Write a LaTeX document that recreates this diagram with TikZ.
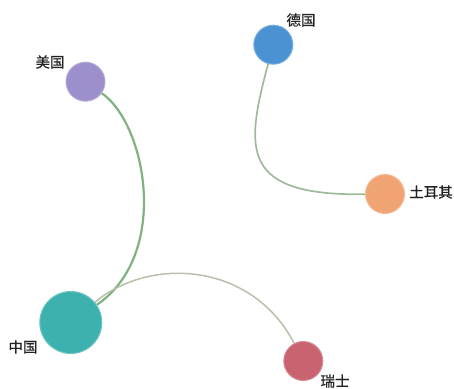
\documentclass[tikz,border=0pt]{standalone}
\usepackage{fontspec}
\newfontfamily\cjk[FakeBold=0.6]{Noto Sans CJK SC}
\definecolor{cnfill}{HTML}{3DB1AD}
\definecolor{usfill}{HTML}{9C8FCB}
\definecolor{defill}{HTML}{4A92D2}
\definecolor{trfill}{HTML}{F0A474}
\definecolor{chfill}{HTML}{C9636F}
\definecolor{edgeA}{HTML}{7FB27F}
\definecolor{edgeB}{HTML}{9DBB99}
\definecolor{edgeC}{HTML}{B9C0AA}
\definecolor{labelcol}{HTML}{222222}
\tikzset{
  country/.style={circle, inner sep=0pt, minimum size=39pt, line width=1pt},
  clabel/.style={font=\cjk\fontsize{14.5}{16}\selectfont, text=labelcol, inner sep=0pt},
}
\begin{document}
\begin{tikzpicture}[x=1pt, y=-1pt]
\useasboundingbox (0,0) rectangle (454,388);
% node positions (drawn again above the edges)
\node[country, minimum size=62pt] (cn) at (70.8,322.5) {};
\node[country] (us) at (85.5,81.7) {};
\node[country] (de) at (273.3,44.7) {};
\node[country] (tr) at (385,194) {};
\node[country] (ch) at (303.3,361) {};
% edges
\draw[edgeA, line width=2.2pt] (us) .. controls (147,125) and (170,255) .. (cn);
\draw[edgeC, line width=1.5pt] (cn) .. controls (150,256) and (252,262) .. (ch);
\draw[edgeB, line width=1.7pt] (de) .. controls (245,150) and (240,196) .. (tr);
% circles
\node[country, minimum size=62pt, fill=cnfill, draw=cnfill!75!white] at (cn) {};
\node[country, fill=usfill, draw=usfill!75!white] at (us) {};
\node[country, fill=defill, draw=defill!75!white] at (de) {};
\node[country, fill=trfill, draw=trfill!75!white] at (tr) {};
\node[country, fill=chfill, draw=chfill!75!white] at (ch) {};
% labels
\node[clabel] (lcn) at (23,347) {中国};
\node[clabel] (lus) at (50,62) {美国};
\node[clabel] (lde) at (301,20) {德国};
\node[clabel] (ltr) at (431,192) {土耳其};
\node[clabel] (lch) at (335,381) {瑞士};
\end{tikzpicture}
\end{document}
